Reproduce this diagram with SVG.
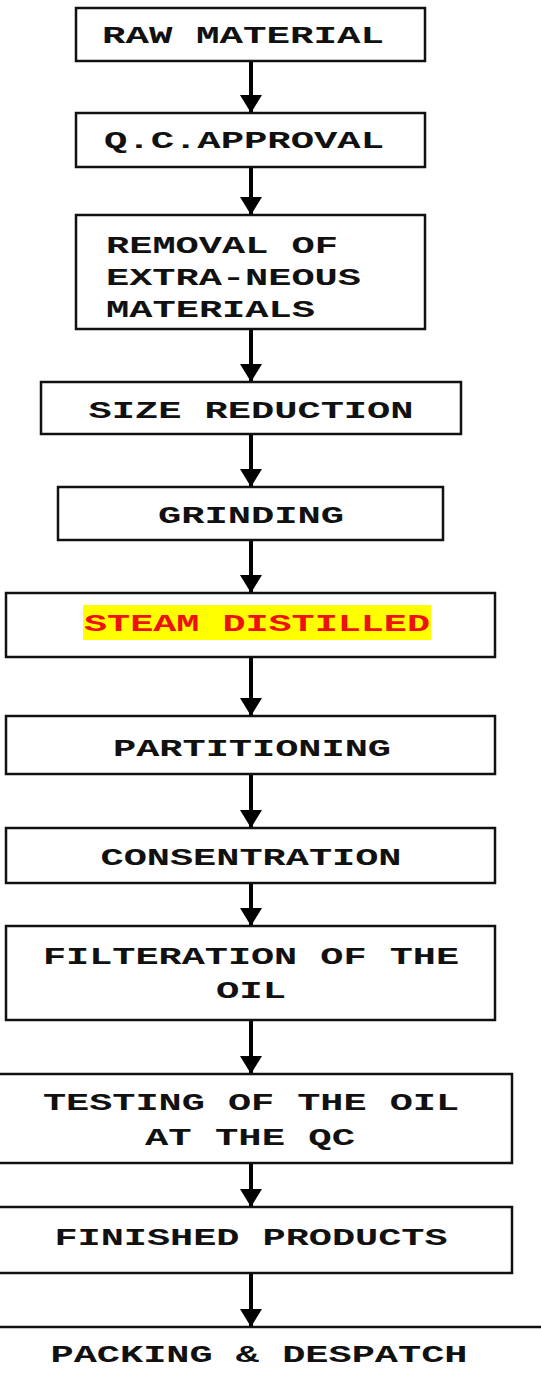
<svg xmlns="http://www.w3.org/2000/svg" width="541" height="1379" viewBox="0 0 541 1379">
<style>
.box{fill:#fff;stroke:#111;stroke-width:2.5}
.t{font-family:"Liberation Mono","DejaVu Sans Mono",monospace;font-weight:bold;font-size:24px;fill:#111;text-anchor:middle}
.l{text-anchor:start}
.red{fill:#ee1111}
.con{stroke:#000;stroke-width:4;fill:none}
</style>
<defs>
<marker id="ah" markerUnits="userSpaceOnUse" viewBox="0 0 18 22" refX="18" refY="11" markerWidth="18" markerHeight="22" orient="auto">
<polygon points="0,0 18,11 0,22" fill="#000"/>
</marker>
</defs>
<rect width="541" height="1379" fill="#fff"/>
<g id="connectors">
<path class="con" d="M251 61V113" marker-end="url(#ah)"/>
<path class="con" d="M251 167V215" marker-end="url(#ah)"/>
<path class="con" d="M251 329V382" marker-end="url(#ah)"/>
<path class="con" d="M251 434V487" marker-end="url(#ah)"/>
<path class="con" d="M251 540V593" marker-end="url(#ah)"/>
<path class="con" d="M251 657V716" marker-end="url(#ah)"/>
<path class="con" d="M251 774V828" marker-end="url(#ah)"/>
<path class="con" d="M251 883V926" marker-end="url(#ah)"/>
<path class="con" d="M251 1020V1074" marker-end="url(#ah)"/>
<path class="con" d="M251 1163V1207" marker-end="url(#ah)"/>
<path class="con" d="M251 1273V1327" marker-end="url(#ah)"/>
</g>
<g id="raw">
<rect class="box" x="76" y="8" width="349" height="53"/>
<text class="t" x="243" y="43" textLength="282" lengthAdjust="spacingAndGlyphs">RAW MATERIAL</text>
</g>
<g id="qc">
<rect class="box" x="76" y="113" width="349" height="54"/>
<text class="t" x="244" y="148" textLength="280" lengthAdjust="spacingAndGlyphs">Q.C.APPROVAL</text>
</g>
<g id="removal">
<rect class="box" x="76" y="215" width="349" height="114"/>
<text class="t l" x="106" y="253" textLength="232" lengthAdjust="spacingAndGlyphs">REMOVAL OF</text>
<text class="t l" x="106" y="285" textLength="255" lengthAdjust="spacingAndGlyphs">EXTRA-NEOUS</text>
<text class="t l" x="106" y="317" textLength="209" lengthAdjust="spacingAndGlyphs">MATERIALS</text>
</g>
<g id="size">
<rect class="box" x="41" y="382" width="420" height="52"/>
<text class="t" x="251" y="418" textLength="325" lengthAdjust="spacingAndGlyphs">SIZE REDUCTION</text>
</g>
<g id="grinding">
<rect class="box" x="58" y="487" width="385" height="53"/>
<text class="t" x="251" y="523" textLength="186" lengthAdjust="spacingAndGlyphs">GRINDING</text>
</g>
<g id="steam">
<rect class="box" x="6" y="593" width="489" height="64"/>
<rect x="83" y="605" width="348" height="35" fill="#ffff00"/>
<text class="t red" x="257" y="631" textLength="346" lengthAdjust="spacingAndGlyphs">STEAM DISTILLED</text>
</g>
<g id="partitioning">
<rect class="box" x="6" y="716" width="489" height="58"/>
<text class="t" x="252" y="756" textLength="278" lengthAdjust="spacingAndGlyphs">PARTITIONING</text>
</g>
<g id="consentration">
<rect class="box" x="6" y="828" width="489" height="55"/>
<text class="t" x="251" y="865" textLength="301" lengthAdjust="spacingAndGlyphs">CONSENTRATION</text>
</g>
<g id="filteration">
<rect class="box" x="6" y="926" width="489" height="94"/>
<text class="t" x="251" y="964" textLength="416" lengthAdjust="spacingAndGlyphs">FILTERATION OF THE</text>
<text class="t" x="251" y="998" textLength="70" lengthAdjust="spacingAndGlyphs">OIL</text>
</g>
<g id="testing">
<rect class="box" x="-5" y="1074" width="517" height="89"/>
<text class="t" x="251" y="1110" textLength="416" lengthAdjust="spacingAndGlyphs">TESTING OF THE OIL</text>
<text class="t" x="250" y="1145" textLength="210" lengthAdjust="spacingAndGlyphs">AT THE QC</text>
</g>
<g id="finished">
<rect class="box" x="-5" y="1207" width="517" height="66"/>
<text class="t" x="251" y="1245" textLength="393" lengthAdjust="spacingAndGlyphs">FINISHED PRODUCTS</text>
</g>
<g id="packing">
<line x1="0" y1="1327" x2="541" y2="1327" stroke="#111" stroke-width="2.5"/>
<text class="t" x="259" y="1362" textLength="417" lengthAdjust="spacingAndGlyphs">PACKING &amp; DESPATCH</text>
</g>
</svg>
